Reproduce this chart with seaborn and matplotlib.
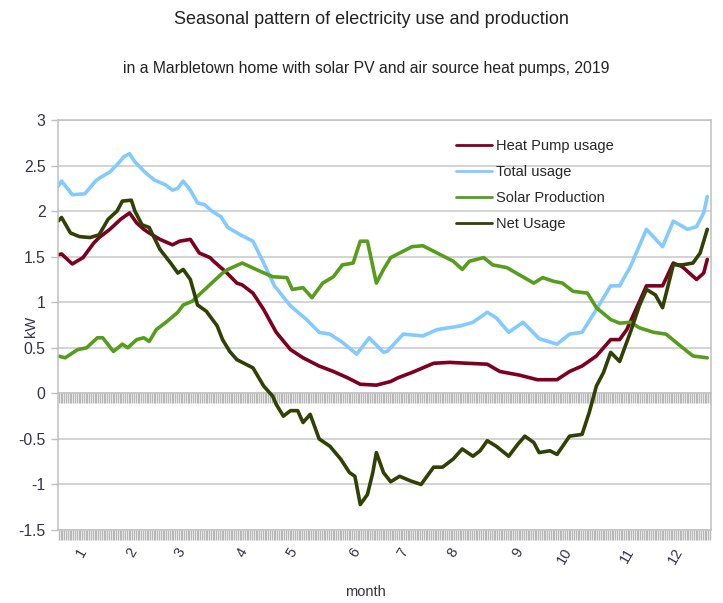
import numpy as np
import pandas as pd
import matplotlib
matplotlib.use("Agg")
import matplotlib.pyplot as plt
import seaborn as sns

# day-of-year positions and kW values
heat_days = [0, 2, 8, 14, 20, 23, 29, 35, 40, 44, 48, 51, 57, 64, 68, 74, 79, 85, 87, 94,
             100, 103, 109, 115, 122, 130, 137, 146, 154, 162, 169, 178, 180, 186, 190, 198,
             210, 219, 229, 240, 247, 258, 268, 279, 286, 293, 301, 309, 314, 318, 324, 329,
             338, 344, 349, 357, 361, 363]
heat_kw = [1.52, 1.53, 1.42, 1.49, 1.65, 1.71, 1.80, 1.91, 1.98, 1.87, 1.80, 1.76, 1.69, 1.63,
           1.67, 1.69, 1.54, 1.49, 1.45, 1.33, 1.21, 1.19, 1.10, 0.92, 0.67, 0.48, 0.39, 0.30,
           0.24, 0.17, 0.10, 0.09, 0.10, 0.13, 0.17, 0.23, 0.33, 0.34, 0.33, 0.32, 0.24, 0.20,
           0.15, 0.15, 0.24, 0.30, 0.41, 0.59, 0.59, 0.70, 0.96, 1.18, 1.18, 1.43, 1.39, 1.25,
           1.32, 1.47]

total_days = [0, 2, 8, 15, 21, 23, 29, 34, 37, 40, 43, 49, 54, 60, 64, 67, 70, 74, 78, 82,
              86, 91, 95, 102, 109, 115, 121, 130, 139, 146, 152, 159, 167, 174, 182, 184,
              193, 204, 212, 225, 232, 240, 245, 252, 260, 269, 279, 286, 293, 301, 309, 314,
              320, 329, 338, 344, 352, 357, 361, 363]
total_kw = [2.27, 2.33, 2.18, 2.19, 2.33, 2.36, 2.43, 2.53, 2.60, 2.63, 2.54, 2.42, 2.34, 2.29,
            2.23, 2.25, 2.33, 2.23, 2.09, 2.07, 2.00, 1.94, 1.82, 1.74, 1.67, 1.43, 1.18, 0.96,
            0.81, 0.67, 0.65, 0.56, 0.43, 0.61, 0.45, 0.46, 0.65, 0.63, 0.70, 0.74, 0.78, 0.89,
            0.83, 0.67, 0.78, 0.60, 0.54, 0.65, 0.67, 0.92, 1.18, 1.18, 1.39, 1.80, 1.61, 1.89,
            1.80, 1.83, 1.98, 2.16]

solar_days = [0, 4, 11, 16, 22, 25, 31, 36, 39, 44, 48, 51, 55, 61, 67, 70, 75, 81, 87, 92,
              95, 103, 113, 120, 128, 131, 137, 142, 148, 154, 159, 165, 169, 173, 178, 182,
              186, 191, 198, 204, 214, 221, 226, 230, 238, 243, 251, 258, 266, 271, 277, 282,
              288, 296, 301, 309, 314, 320, 325, 333, 340, 348, 355, 363]
solar_kw = [0.41, 0.39, 0.48, 0.50, 0.61, 0.61, 0.46, 0.54, 0.50, 0.59, 0.61, 0.57, 0.70, 0.79,
            0.89, 0.97, 1.01, 1.12, 1.23, 1.32, 1.36, 1.43, 1.34, 1.28, 1.27, 1.14, 1.16, 1.05,
            1.21, 1.28, 1.41, 1.43, 1.67, 1.67, 1.21, 1.36, 1.49, 1.54, 1.61, 1.62, 1.52, 1.45,
            1.36, 1.45, 1.49, 1.41, 1.38, 1.30, 1.21, 1.27, 1.23, 1.21, 1.12, 1.10, 0.94, 0.81,
            0.77, 0.78, 0.72, 0.67, 0.65, 0.52, 0.41, 0.39]

net_days = [0, 2, 7, 12, 18, 23, 28, 33, 36, 41, 43, 47, 51, 57, 63, 67, 70, 74, 78, 83,
            89, 92, 96, 100, 103, 109, 115, 120, 122, 126, 130, 134, 137, 141, 146, 152, 158,
            163, 166, 169, 173, 176, 178, 182, 186, 191, 197, 203, 210, 215, 221, 226, 232,
            236, 240, 245, 252, 257, 261, 266, 269, 275, 279, 286, 293, 297, 301, 305, 309,
            314, 320, 325, 329, 334, 338, 344, 349, 355, 359, 363]
net_kw = [1.89, 1.93, 1.76, 1.72, 1.71, 1.74, 1.91, 2.00, 2.11, 2.12, 2.00, 1.85, 1.82, 1.58,
          1.43, 1.32, 1.36, 1.25, 0.97, 0.90, 0.74, 0.59, 0.46, 0.37, 0.34, 0.28, 0.08, -0.03,
          -0.12, -0.25, -0.19, -0.19, -0.32, -0.23, -0.50, -0.58, -0.72, -0.87, -0.91, -1.22,
          -1.11, -0.87, -0.65, -0.87, -0.97, -0.91, -0.96, -1.00, -0.81, -0.81, -0.72, -0.61,
          -0.69, -0.63, -0.52, -0.58, -0.69, -0.56, -0.47, -0.54, -0.65, -0.63, -0.67, -0.47,
          -0.45, -0.21, 0.08, 0.23, 0.45, 0.35, 0.67, 0.96, 1.14, 1.08, 0.94, 1.41, 1.41, 1.43,
          1.54, 1.80]

month_labels = ['1', '2', '3', '4', '5', '6', '7', '8', '9', '10', '11', '12']
month_pos = [13, 41, 68, 103, 131, 166, 193, 221, 257, 283, 318, 345]

sns.set_style("white")
plt.rcParams['font.family'] = ['Liberation Sans', 'DejaVu Sans']

fig = plt.figure(figsize=(7.23, 6.03), dpi=100)
ax = fig.add_axes([0.0802, 0.121, 0.903, 0.680])

series = [
    (heat_days, heat_kw, 'Heat Pump usage', '#7e0021'),
    (total_days, total_kw, 'Total usage', '#83caff'),
    (solar_days, solar_kw, 'Solar Production', '#579d1c'),
    (net_days, net_kw, 'Net Usage', '#314004'),
]
for days, kw, name, col in series:
    df = pd.DataFrame({'day': days, 'kW': kw})
    sns.lineplot(data=df, x='day', y='kW', ax=ax, color=col, linewidth=2.6,
                 label=name, sort=False)

ax.set_xlim(0, 365)
ax.set_ylim(-1.5, 3)
ax.set_yticks(np.arange(-1.5, 3.01, 0.5))
ax.set_yticklabels(['-1.5', '-1', '-0.5', '0', '0.5', '1', '1.5', '2', '2.5', '3'])
ax.yaxis.grid(True, color='#c8c8c8', linewidth=1.1)
ax.set_axisbelow(True)

for s in ax.spines.values():
    s.set_color('#c0c0c0')
    s.set_linewidth(1.1)

ax.tick_params(axis='y', left=True, length=5, width=1, color='#c0c0c0', pad=4,
               labelsize=11.3, labelcolor='#333344')

# month labels as major ticks, one minor tick per day gives the hatched band
ax.set_xticks(month_pos)
ax.set_xticklabels(month_labels, rotation=60, ha='center', fontsize=10.5, color='#333344')
ax.set_xticks(np.arange(0.5, 365, 1), minor=True)
ax.tick_params(axis='x', which='major', bottom=True, length=0, pad=11)
ax.tick_params(axis='x', which='minor', bottom=True, length=7, width=1, color='#b8b8b8',
               direction='out')

zero = ax.secondary_xaxis(1.5 / 4.5)
zero.set_xticks(np.arange(0.5, 365, 1))
zero.set_xticklabels([])
zero.tick_params(axis='x', length=7, width=1, color='#b8b8b8', direction='out')
zero.spines['bottom'].set_color('#b8b8b8')
zero.spines['bottom'].set_linewidth(1.1)

ax.set_xlabel('')
ax.set_ylabel('')
fig.text(365 / 723, 1 - 592 / 603, 'month', ha='center', va='center',
         fontsize=10.5, color='#333344')
fig.text(31 / 723, 1 - 326 / 603, 'kW', ha='center', va='center', rotation=90,
         fontsize=10.5, color='#333344')

leg = ax.legend(loc='upper left', bbox_to_anchor=(0.620, 0.781),
                bbox_transform=fig.transFigure, frameon=False, fontsize=10.5,
                borderpad=0, labelspacing=0.82, handlelength=2.5, handletextpad=0.3)
for line in leg.get_lines():
    line.set_linewidth(2.0)

fig.text(0.514, 0.967, 'Seasonal pattern of electricity use and production',
         ha='center', va='center', fontsize=13, color='#222222')
fig.text(0.506, 0.887, 'in a Marbletown home with solar PV and air source heat pumps, 2019',
         ha='center', va='center', fontsize=11.3, color='#222222')

fig.savefig('out.png', dpi=100)
